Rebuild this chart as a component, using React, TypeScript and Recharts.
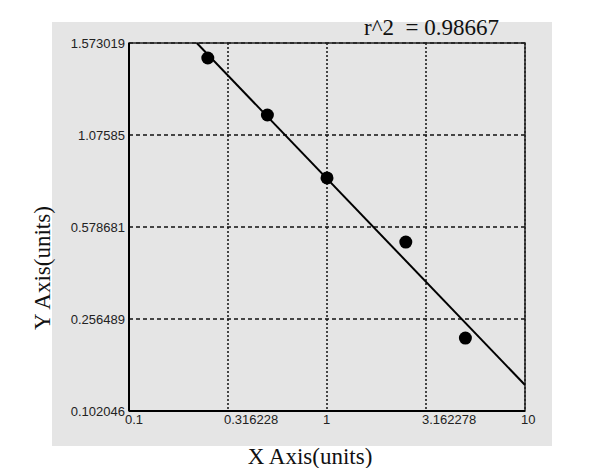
import { ComposedChart, Scatter, XAxis, YAxis, CartesianGrid, ReferenceArea } from 'recharts';

// standard points
const concentrations = [0.25, 0.5, 1, 2.5, 5];
const responses = [1.492, 1.184, 0.844, 0.526, 0.2245];

// fitted curve end points
const fitX = [0.22, 10];
const fitY = [1.573019, 0.1457];

const xTicks = [0.1, 0.316228, 1, 3.162278, 10];
const xTickLabels = ['0.1', '0.316228', '1', '3.162278', '10'];
const yTickValues = [0.102046, 0.256489, 0.578681, 1.07585, 1.573019];
const yTickLabels = ['0.102046', '0.256489', '0.578681', '1.07585', '1.573019'];

const rSquared = '0.98667';

// y axis ticks are evenly spaced, so map values piecewise onto tick positions
const toAxis = (v: number) => {
  for (let i = 0; i < yTickValues.length - 1; i++) {
    const lo = yTickValues[i];
    const hi = yTickValues[i + 1];
    if (v <= hi || i === yTickValues.length - 2) {
      return i + (v - lo) / (hi - lo);
    }
  }
  return 0;
};

const points = concentrations.map((x, i) => ({ x, y: toAxis(responses[i]) }));
const fitLine = fitX.map((x, i) => ({ x, y: toAxis(fitY[i]) }));
const yTicks = yTickValues.map((_, i) => i);

const labelFont = '"Liberation Sans", Arial, sans-serif';
const titleFont = '"Liberation Serif", "Times New Roman", serif';

const XTick = ({ x, y, index }: any) => (
  <text x={x - 4} y={y + 13} textAnchor="start" fontSize={13} fontFamily={labelFont} fill="#222">
    {xTickLabels[index]}
  </text>
);

const YTick = ({ x, y, index }: any) => (
  <text x={x - 4} y={y} dy="0.35em" textAnchor="end" fontSize={13} fontFamily={labelFont} fill="#222">
    {yTickLabels[index]}
  </text>
);

const App = () => {
  return (
    <div style={{ position: 'absolute', left: 0, top: 0, width: 600, height: 468, background: '#fff' }}>
      <div style={{ position: 'absolute', left: 52, top: 22, width: 500, height: 424, background: '#e5e5e5' }}>
        <ComposedChart width={500} height={424} margin={{ top: 21, right: 27, bottom: 0, left: 0 }}>
          <CartesianGrid horizontal={false} stroke="#111" strokeDasharray="2 2" strokeWidth={1.5} verticalValues={xTicks} />
          <CartesianGrid vertical={false} stroke="#111" strokeDasharray="4 3" strokeWidth={1.5} />
          <XAxis
            dataKey="x"
            type="number"
            scale="log"
            domain={[0.1, 10]}
            ticks={xTicks}
            allowDataOverflow
            height={35}
            tickSize={0}
            tickMargin={0}
            tickLine={false}
            axisLine={{ stroke: '#000', strokeWidth: 2 }}
            tick={<XTick />}
            interval={0}
          />
          <YAxis
            dataKey="y"
            type="number"
            domain={[0, 4]}
            ticks={yTicks}
            allowDataOverflow
            width={77}
            tickSize={0}
            tickMargin={0}
            tickLine={false}
            axisLine={{ stroke: '#000', strokeWidth: 2 }}
            tick={<YTick />}
            interval={0}
          />
          <ReferenceArea x1={0.1} x2={10} y1={0} y2={4} fill="none" stroke="#222" strokeWidth={1.5} />
          <Scatter
            data={fitLine}
            line={{ stroke: '#000', strokeWidth: 2 }}
            shape={() => <g />}
            isAnimationActive={false}
          />
          <Scatter
            data={points}
            fill="#000"
            shape={(props: any) => <circle cx={props.cx} cy={props.cy} r={6.5} fill="#000" />}
            isAnimationActive={false}
          />
        </ComposedChart>
      </div>
      <div
        style={{
          position: 'absolute',
          left: 364,
          top: 15,
          fontFamily: titleFont,
          fontSize: 23,
          whiteSpace: 'pre',
          color: '#111',
          lineHeight: '26px',
        }}
      >
        {`r^2  = ${rSquared}`}
      </div>
      <div
        style={{
          position: 'absolute',
          left: 200,
          width: 220,
          top: 444,
          textAlign: 'center',
          fontFamily: titleFont,
          fontSize: 23,
          color: '#111',
          lineHeight: '26px',
        }}
      >
        X Axis(units)
      </div>
      <div
        style={{
          position: 'absolute',
          left: 43 - 110,
          width: 220,
          top: 268 - 13,
          textAlign: 'center',
          fontFamily: titleFont,
          fontSize: 23,
          color: '#111',
          lineHeight: '26px',
          transform: 'rotate(-90deg)',
        }}
      >
        Y Axis(units)
      </div>
    </div>
  );
};

export default App;
